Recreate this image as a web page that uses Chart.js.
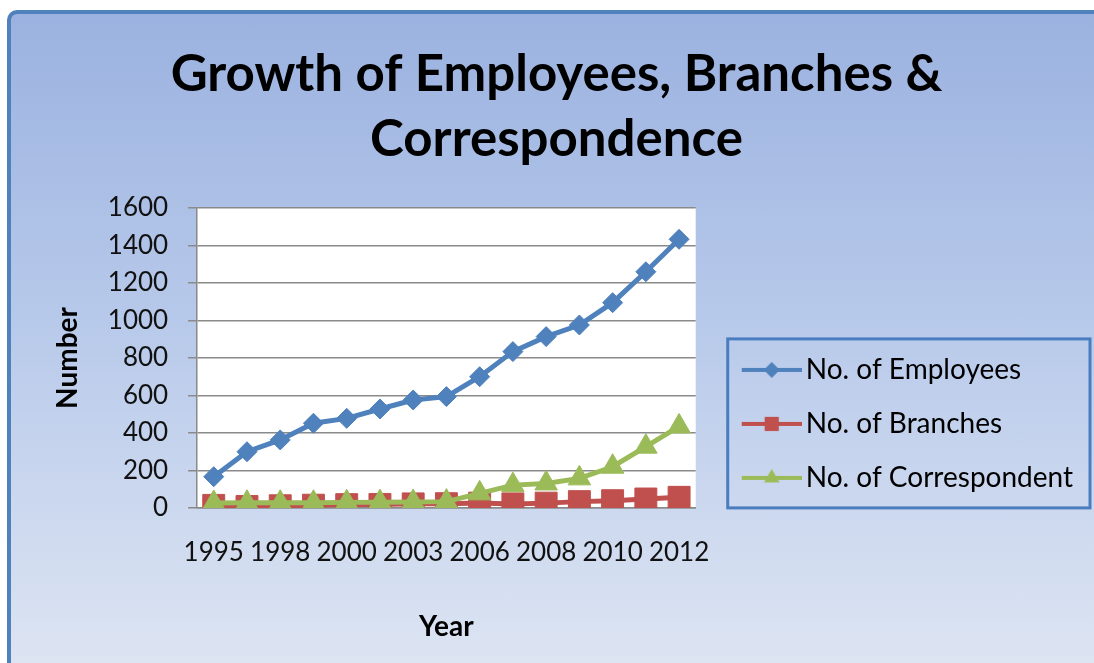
<!DOCTYPE html>
<html>
<head>
<meta charset="utf-8">
<script src="https://cdn.jsdelivr.net/npm/chart.js@4/dist/chart.umd.min.js"></script>
<style>
  html, body { margin: 0; padding: 0; background: #fff; overflow: hidden; }
  #frame {
    position: absolute; left: 7px; top: 10px;
    width: 1110px; height: 670px;
    border: 4px solid #4f81bd; border-radius: 10px;
    background: linear-gradient(to bottom, #9bb2e0 0%, #b7c9ea 45%, #dfe6f3 100%);
  }
  #wrap { position: absolute; left: 0; top: 0; width: 1094px; height: 663px; }
</style>
</head>
<body>
<div id="frame"></div>
<div id="wrap"><canvas id="growthChart"></canvas></div>
<script>
const years = ['1995', '1996', '1998', '1999', '2000', '2001', '2003', '2004',
               '2006', '2007', '2008', '2009', '2010', '2011', '2012'];
const employees = [167, 300, 363, 452, 478, 528, 576, 594, 700, 834, 914, 976, 1095, 1260, 1433];
const branches = [14, 8, 12, 15, 18, 19, 22, 23, 26, 22, 26, 34, 39, 48, 57];
const correspondent = [27, 28, 28, 28, 30, 31, 32, 34, 78, 122, 131, 158, 220, 327, 435];
const yTicks = [0, 200, 400, 600, 800, 1000, 1200, 1400, 1600];

const BLUE = '#4f81bd';
const RED = '#c0504d';
const GREEN = '#9bbb59';

// legend key: short line with the series marker in the middle
function makeKey(color, style, radius) {
    const c = document.createElement('canvas');
    c.width = 90;
    c.height = 24;
    const g = c.getContext('2d');
    g.strokeStyle = color;
    g.lineWidth = 4;
    g.beginPath();
    g.moveTo(30, 12);
    g.lineTo(90, 12);
    g.stroke();
    g.fillStyle = color;
    Chart.helpers.drawPoint(g, {pointStyle: style, radius: radius, rotation: 0, borderWidth: 0}, 60, 12);
    return c;
}

const keys = [makeKey(BLUE, 'rectRot', 8), makeKey(RED, 'rect', 10), makeKey(GREEN, 'triangle', 9)];

const plotBg = {
    id: 'plotBg',
    beforeDraw(chart) {
        const {ctx, chartArea: a} = chart;
        ctx.save();
        ctx.fillStyle = '#ffffff';
        ctx.fillRect(a.left, a.top, a.right - a.left, a.bottom - a.top);
        ctx.restore();
    }
};

// centre the legend against plot + x axis and draw its frame
const legendBox = {
    id: 'legendBox',
    afterLayout(chart) {
        const lg = chart.legend;
        const xs = chart.scales.x;
        const pad = lg.options.labels.padding;
        const block = lg.columnSizes[0].height - pad;
        const mid = (chart.chartArea.top + xs.bottom - xs.options.title.padding.bottom) / 2;
        const h = lg.bottom - lg.top;
        lg.top = mid - block / 2 - pad - 2;
        lg.bottom = lg.top + h;
    },
    afterDraw(chart) {
        const lg = chart.legend;
        const pad = lg.options.labels.padding;
        const block = lg.columnSizes[0].height - pad;
        const x0 = lg.left + pad + 6;
        const y0 = lg.top + pad - 17;
        const x1 = lg.right + 7;
        const y1 = lg.top + pad + block + 16;
        const ctx = chart.ctx;
        ctx.save();
        ctx.strokeStyle = '#4a7dbf';
        ctx.lineWidth = 3;
        ctx.strokeRect(x0, y0, x1 - x0, y1 - y0);
        ctx.restore();
    }
};

new Chart(document.getElementById('growthChart'), {
    type: 'line',
    data: {
        labels: years,
        datasets: [{
            label: 'No. of Employees',
            data: employees,
            borderColor: BLUE,
            backgroundColor: BLUE,
            borderWidth: 5,
            pointStyle: 'rectRot',
            pointRadius: 10,
            pointBorderWidth: 1,
            order: 3
        }, {
            label: 'No. of Branches',
            data: branches,
            borderColor: RED,
            backgroundColor: RED,
            borderWidth: 5,
            pointStyle: 'rect',
            pointRadius: 15.5,
            pointBorderWidth: 1,
            order: 2
        }, {
            label: 'No. of Correspondent',
            data: correspondent,
            borderColor: GREEN,
            backgroundColor: GREEN,
            borderWidth: 5,
            pointStyle: 'triangle',
            pointRadius: 13,
            pointBorderWidth: 1,
            order: 1
        }]
    },
    options: {
        responsive: true,
        maintainAspectRatio: false,
        animation: false,
        layout: {
            padding: {left: 30, right: 11, top: 0, bottom: 0}
        },
        plugins: {
            title: {
                display: true,
                text: ['Growth of Employees, Branches &', 'Correspondence'],
                color: '#000',
                font: {family: 'Lato', size: 51, weight: 'bold', lineHeight: 1.2745},
                padding: {top: 42.5, bottom: 35.5}
            },
            legend: {
                position: 'right',
                align: 'start',
                maxWidth: 420,
                labels: {
                    color: '#1e1e1e',
                    font: {family: 'Lato', size: 28},
                    padding: 26,
                    usePointStyle: true,
                    pointStyleWidth: 70,
                    generateLabels(chart) {
                        return chart.data.datasets.map((ds, i) => ({
                            text: ds.label,
                            pointStyle: keys[i],
                            fillStyle: ds.borderColor,
                            strokeStyle: ds.borderColor,
                            lineWidth: 0,
                            hidden: false,
                            datasetIndex: i
                        }));
                    }
                }
            },
            tooltip: {enabled: false}
        },
        scales: {
            x: {
                offset: true,
                grid: {display: false, drawTicks: false},
                border: {display: true, color: '#8a8a8a', width: 1.5},
                ticks: {
                    autoSkip: false,
                    maxRotation: 0,
                    padding: 29.4,
                    color: '#111',
                    font: {family: 'Lato', size: 26},
                    callback: function (value, index) {
                        return index % 2 === 0 ? this.getLabelForValue(value) : '';
                    }
                },
                title: {
                    display: true,
                    text: 'Year',
                    color: '#000',
                    font: {family: 'Lato', size: 28, weight: 'bold'},
                    padding: {top: 12.2, bottom: 19.2}
                }
            },
            y: {
                min: yTicks[0],
                max: yTicks[yTicks.length - 1],
                grid: {color: '#8a8a8a', lineWidth: 1.5, tickLength: 9},
                border: {display: true, color: '#8a8a8a', width: 1.5},
                ticks: {
                    stepSize: yTicks[1] - yTicks[0],
                    autoSkip: false,
                    padding: 20,
                    color: '#111',
                    font: {family: 'Lato', size: 26},
                    callback: (v) => String(v)
                },
                title: {
                    display: true,
                    text: 'Number',
                    color: '#000',
                    font: {family: 'Lato', size: 28, weight: 'bold'},
                    padding: {top: 21.2, bottom: 3}
                }
            }
        }
    },
    plugins: [plotBg, legendBox]
});
</script>
</body>
</html>
